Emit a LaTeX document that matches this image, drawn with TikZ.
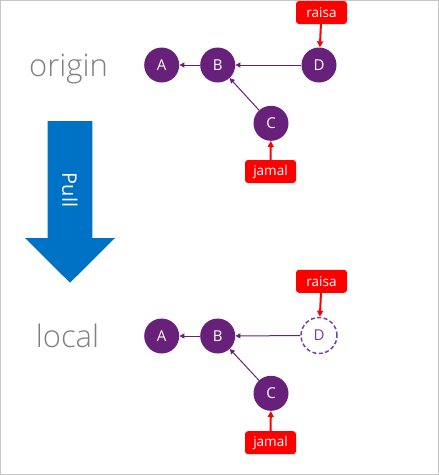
\documentclass[tikz,border=0pt]{standalone}
\usepackage{fontspec}
\setmainfont{Open Sans}
\newfontfamily\lightfont{Open Sans Light}
\usetikzlibrary{arrows.meta}
\definecolor{commit}{HTML}{68217A}
\definecolor{dashp}{HTML}{7B3FA6}
\definecolor{tagred}{HTML}{FF0000}
\definecolor{pullblue}{HTML}{0072C6}
\definecolor{framegray}{HTML}{C6C6C6}
\definecolor{lbl}{HTML}{808080}
\tikzset{
 commitnode/.style={circle, fill=commit, text=white, minimum size=35pt, inner sep=0pt, font=\fontsize{15}{15}\selectfont},
 ghost/.style={circle, draw=dashp, line width=1.5pt, dash pattern=on 4pt off 2.5pt, fill=white, text=dashp, minimum size=36pt, inner sep=0pt, font=\fontsize{15}{15}\selectfont},
 tagnode/.style={rectangle, rounded corners=3pt, fill=tagred, text=white, minimum width=51pt, minimum height=23pt, inner sep=0pt, font=\fontsize{13.5}{13.5}\selectfont},
 parent/.style={draw=commit, line width=1pt, -{Triangle[length=5pt,width=5pt]}},
 tagarrow/.style={draw=tagred, line width=2pt, -{Triangle[length=6pt,width=6pt]}},
 side/.style={text=lbl, font=\lightfont\fontsize{31}{31}\selectfont, anchor=base, inner sep=0pt},
}
\begin{document}
\begin{tikzpicture}[x=1pt,y=-1pt]
\useasboundingbox (0,0) rectangle (439,475);
\draw[framegray, line width=1pt] (0.5,0.5) rectangle (438.5,474.5);

% labels
\node[side] (origin) at (68.5,76) {origin};
\node[side] (local) at (67.5,347) {local};

% pull arrow
\fill[pullblue] (47.7,121) -- (92.3,121) -- (92.3,238) -- (115,238) -- (70,282.7) -- (25,238) -- (47.7,238) -- cycle;
\node[text=white, rotate=-90, font=\fontsize{20}{20}\selectfont, inner sep=0pt] (pull) at (70,190) {Pull};

% origin graph
\node[commitnode] (a1) at (161.7,65) {A};
\node[commitnode] (b1) at (217.7,65) {B};
\node[commitnode] (d1) at (319,65) {D};
\node[commitnode] (c1) at (271,123.3) {C};
\node[tagnode] (r1) at (321.5,12.5) {raisa};
\node[tagnode] (j1) at (270.5,171.5) {jamal};
\draw[parent] (b1) -- (a1);
\draw[parent] (d1) -- (b1);
\draw[parent] (c1) -- (b1);
\draw[tagarrow] (r1) -- (d1);
\draw[tagarrow] (j1) -- (c1);

% local graph
\node[commitnode] (a2) at (161.7,336) {A};
\node[commitnode] (b2) at (217.7,336) {B};
\node[ghost] (d2) at (319,335.5) {D};
\node[commitnode] (c2) at (271,393.3) {C};
\node[tagnode] (r2) at (321.5,281.3) {raisa};
\node[tagnode] (j2) at (270.5,442.7) {jamal};
\draw[parent] (b2) -- (a2);
\draw[parent] (d2) -- (b2);
\draw[parent] (c2) -- (b2);
\draw[tagarrow] (r2) -- (d2);
\draw[tagarrow] (j2) -- (c2);
\end{tikzpicture}
\end{document}
